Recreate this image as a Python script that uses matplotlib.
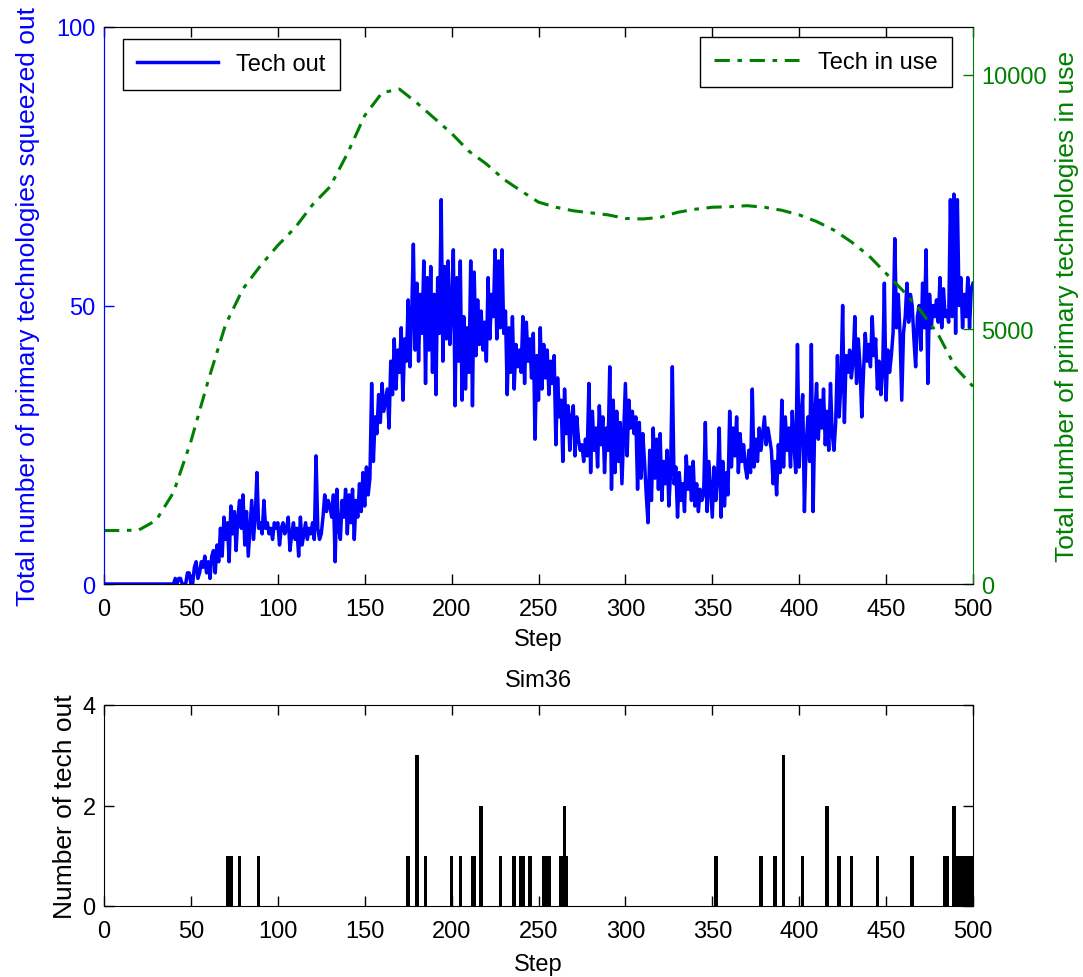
import matplotlib
matplotlib.use("Agg")
import matplotlib.pyplot as plt
import numpy as np

plt.rcParams['font.family'] = ['Liberation Sans', 'DejaVu Sans']

# Tech out per step (steps 0..500)
tech_out = [0] * 40 + [
    0, 1, 0, 1, 1, 0, 0, 0, 2, 2,
    0, 0, 3, 4, 1, 2, 4, 3, 5, 2,
    4, 1, 5, 6, 2, 7, 4, 10, 5, 12,
    8, 11, 4, 14, 9, 13, 6, 12, 15, 10,
    16, 7, 13, 5, 10, 15, 8, 12, 20, 10,
    11, 9, 15, 10, 11, 9, 10, 8, 11, 10,
    11, 7, 10, 11, 9, 10, 12, 6, 9, 11,
    8, 10, 5, 12, 7, 9, 11, 8, 10, 9,
    11, 8, 23, 10, 8, 9, 12, 16, 13, 15,
    14, 12, 16, 4, 17, 10, 8, 15, 12, 17,
    9, 16, 11, 17, 8, 15, 12, 18, 13, 20,
    14, 21, 16, 19, 36, 22, 30, 27, 34, 29,
    36, 31, 33, 35, 28, 40, 34, 44, 35, 42,
    38, 46, 33, 44, 40, 51, 39, 48, 61, 42,
    54, 40, 52, 45, 58, 36, 55, 42, 57, 38,
    52, 34, 55, 45, 69, 40, 57, 44, 58, 43,
    50, 60, 32, 55, 40, 58, 33, 48, 35, 46,
    38, 58, 32, 56, 41, 51, 43, 49, 42, 47,
    40, 55, 44, 52, 48, 60, 44, 58, 46, 60,
    45, 49, 34, 46, 38, 48, 35, 43, 39, 42,
    38, 48, 36, 47, 40, 44, 37, 45, 26, 41,
    33, 46, 35, 43, 37, 42, 34, 40, 36, 41,
    25, 37, 30, 33, 22, 35, 27, 32, 24, 30,
    32, 23, 30, 26, 24, 25, 22, 26, 23, 36,
    20, 31, 24, 28, 21, 32, 25, 30, 20, 28,
    24, 39, 17, 33, 20, 31, 22, 29, 18, 27,
    36, 23, 33, 28, 31, 27, 30, 17, 29, 19,
    27, 22, 16, 11, 24, 15, 28, 19, 26, 17,
    27, 15, 22, 18, 24, 14, 20, 39, 18, 21,
    12, 20, 15, 18, 13, 23, 17, 21, 15, 22,
    14, 18, 13, 17, 15, 16, 29, 13, 22, 17,
    12, 21, 15, 19, 28, 12, 22, 14, 20, 16,
    31, 21, 28, 23, 30, 20, 27, 22, 25, 21,
    19, 24, 20, 35, 21, 26, 22, 28, 24, 27,
    30, 25, 28, 26, 24, 18, 22, 16, 25, 20,
    33, 21, 30, 24, 28, 21, 31, 25, 20, 43,
    21, 30, 34, 13, 25, 30, 22, 43, 13, 30,
    36, 26, 33, 28, 35, 25, 31, 24, 36, 27,
    24, 29, 41, 30, 36, 50, 29, 41, 38, 42,
    37, 40, 48, 36, 44, 39, 30, 38, 45, 40,
    43, 39, 48, 41, 44, 35, 40, 34, 38, 54,
    33, 42, 38, 41, 45, 62, 46, 52, 45, 33,
    45, 48, 54, 47, 52, 50, 44, 39, 48, 50,
    42, 54, 46, 60, 36, 52, 46, 50, 48, 51,
    47, 55, 46, 53, 48, 49, 47, 69, 48, 70,
    45, 69, 50, 55, 46, 52, 48, 55, 46, 53,
    54]
steps = np.arange(len(tech_out))

# Tech in use, every 10 steps
use_steps = list(range(0, 501, 10))
tech_in_use = [1050, 1050, 1060, 1250, 1800, 2800, 4000, 5100, 5800, 6250,
               6650, 7000, 7450, 7800, 8450, 9200, 9650, 9720, 9450, 9150,
               8850, 8500, 8250, 7950, 7720, 7500, 7400, 7330, 7290, 7250,
               7180, 7170, 7200, 7300, 7360, 7400, 7410, 7430, 7400, 7340,
               7250, 7120, 6950, 6720, 6450, 6100, 5750, 5360, 4900, 4250,
               3880]

# Number of tech out (bottom panel)
out_steps = [71, 72, 73, 78, 89, 175, 180, 185, 200, 205, 212, 213, 217, 228,
             236, 240, 241, 245, 253, 254, 255, 256, 263, 264, 265, 266, 352,
             378, 386, 391, 402, 416, 423, 430, 445, 465, 484, 485, 489,
             490, 491, 492, 493, 494, 495, 496, 497, 498, 499]
out_counts = [1, 1, 1, 1, 1, 1, 3, 1, 1, 1, 1, 1, 2, 1,
              1, 1, 1, 1, 1, 1, 1, 1, 1, 1, 2, 1, 1,
              1, 1, 3, 1, 2, 1, 1, 1, 1, 1, 1, 2,
              1, 1, 1, 1, 1, 1, 1, 1, 1, 1]

fs = 17
lfs = 19
fig = plt.figure(figsize=(10.83, 9.78), dpi=100)
ax1 = fig.add_axes([104/1083, 1-585/978, 869/1083, 557/978])
ax2 = ax1.twinx()

l1, = ax1.plot(steps, tech_out, color='#0000ff', lw=2.5)
l2, = ax2.plot(use_steps, tech_in_use, color='#008000', lw=2.2,
               dashes=(5, 2.5, 1.5, 2.5))

ax1.set_xlim(0, 500)
ax1.set_ylim(0, 100)
ax2.set_ylim(0, 10940)
ax1.set_xticks(range(0, 501, 50))
ax1.set_yticks([0, 50, 100])
ax2.set_yticks([0, 5000, 10000])

for ax in (ax1, ax2):
    ax.tick_params(direction='in', length=7, width=1, labelsize=fs, pad=6)
ax1.tick_params(axis='x', top=True, colors='black', pad=10)
ax1.tick_params(axis='y', colors='#0000ff')
ax2.tick_params(axis='y', colors='#008000')
ax1.spines['left'].set_color('#0000ff')
ax2.spines['left'].set_color('#0000ff')
ax2.spines['right'].set_color('#008000')
ax1.spines['right'].set_visible(False)

ax1.set_xlabel('Step', fontsize=fs, labelpad=6)
ax1.set_ylabel('Total number of primary technologies squeezed out', fontsize=lfs,
               color='#0000ff', labelpad=12)
ax2.set_ylabel('Total number of primary technologies in use', fontsize=lfs,
               color='#008000', labelpad=6)

leg1 = ax1.legend([l1], ['Tech out'], loc='upper left', fontsize=fs, fancybox=False,
                  framealpha=1, edgecolor='black', handlelength=3.4,
                  borderpad=0.6, borderaxespad=0, bbox_to_anchor=(0.022, 0.978))
leg1.get_frame().set_linewidth(1)
leg2 = ax2.legend([l2], ['Tech in use'], loc='upper right', fontsize=fs, fancybox=False,
                  framealpha=1, edgecolor='black', handlelength=3.6,
                  borderpad=0.6, borderaxespad=0, bbox_to_anchor=(0.976, 0.982))
leg2.get_frame().set_linewidth(1)

# bottom panel
ax3 = fig.add_axes([104/1083, 1-907/978, 869/1083, 201/978])
ax3.bar(out_steps, out_counts, width=2.0, color='black', edgecolor='none')
ax3.set_xlim(0, 500)
ax3.set_ylim(0, 4)
ax3.set_xticks(range(0, 501, 50))
ax3.set_yticks([0, 2, 4])
ax3.tick_params(direction='in', length=7, width=1, labelsize=fs, pad=6,
                top=True, right=True)
ax3.tick_params(axis='x', pad=10)
ax3.set_xlabel('Step', fontsize=fs, labelpad=8)
ax3.set_ylabel('Number of tech out', fontsize=lfs, labelpad=4)
ax3.set_title('Sim36', fontsize=fs, pad=14)

fig.savefig('out.png', dpi=100)
